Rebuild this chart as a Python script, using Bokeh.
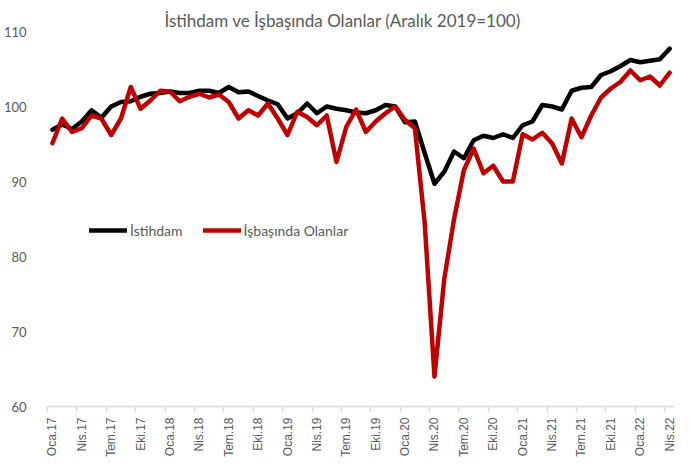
import math
from bokeh.plotting import figure
from bokeh.models import LinearAxis, FixedTicker
from bokeh.embed import file_html
from bokeh.resources import INLINE

month_names = ["Oca", "Şub", "Mar", "Nis", "May", "Haz", "Tem", "Ağu", "Eyl", "Eki", "Kas", "Ara"]
years = ["17", "18", "19", "20", "21", "22"]
months = [f"{m}.{y}" for y in years for m in month_names][:64]

istihdam = [
    96.9, 97.6, 97.0, 98.0, 99.5, 98.5, 100.0, 100.6, 100.7, 101.3, 101.7, 101.8,
    102.0, 101.8, 101.8, 102.1, 102.1, 101.8, 102.6, 101.9, 102.0, 101.4, 100.8, 100.3,
    98.4, 99.1, 100.4, 99.1, 100.0, 99.7, 99.5, 99.2, 99.1, 99.5, 100.2, 100.0,
    97.9, 98.0, 93.8, 89.7, 91.3, 94.0, 93.1, 95.5, 96.1, 95.8, 96.3, 95.8,
    97.5, 98.0, 100.2, 100.0, 99.6, 102.1, 102.5, 102.6, 104.2, 104.7, 105.4, 106.2,
    105.9, 106.1, 106.3, 107.7,
]
isbasinda = [
    95.1, 98.4, 96.6, 97.1, 98.8, 98.4, 96.2, 98.4, 102.6, 99.7, 100.8, 102.1,
    102.0, 100.7, 101.3, 101.7, 101.2, 101.6, 100.6, 98.4, 99.5, 98.8, 100.4, 98.4,
    96.2, 99.3, 98.6, 97.5, 98.8, 92.6, 97.3, 99.6, 96.6, 98.0, 99.1, 100.0,
    98.2, 97.1, 84.5, 64.0, 77.0, 85.0, 91.5, 94.4, 91.1, 92.1, 90.0, 90.0,
    96.3, 95.6, 96.5, 95.1, 92.4, 98.4, 95.9, 98.8, 101.2, 102.4, 103.3, 104.8,
    103.5, 104.0, 102.8, 104.5,
]
y_ticks = [60, 70, 80, 90, 100, 110]
title_text = "İstihdam ve İşbaşında Olanlar (Aralık 2019=100)"

x = list(range(len(months)))
FONT = "Lato"
GRAY = "#595959"

p = figure(width=676, height=459, x_range=(-0.5, len(months) - 0.5), y_range=(60, 110),
           output_backend="svg", toolbar_location=None, x_axis_location=None,
           min_border_left=40, min_border_right=2, min_border_top=31, min_border_bottom=20)

p.title.text = title_text
p.title.align = "left"
p.title.offset = 117
p.title.text_font = FONT
p.title.text_font_size = "17px"
p.title.text_font_style = "normal"
p.title.text_color = GRAY
p.title.standoff = 2

p.xgrid.visible = False
p.ygrid.visible = False
p.outline_line_color = None

boundary_ticks = [i - 0.5 for i in range(0, len(months), 3)]
tick_axis = LinearAxis(ticker=FixedTicker(ticks=boundary_ticks),
                       major_label_overrides={t: "" for t in boundary_ticks},
                       major_label_standoff=0,
                       major_tick_out=5, major_tick_in=0, minor_tick_out=0, minor_tick_in=0,
                       axis_line_color="#d9d9d9", axis_line_width=1.5,
                       major_tick_line_color="#d9d9d9", major_tick_line_width=1.5)
label_ticks = list(range(0, len(months), 3))
label_axis = LinearAxis(ticker=FixedTicker(ticks=label_ticks),
                        major_label_overrides={i: months[i] for i in label_ticks},
                        major_tick_out=0, major_tick_in=0, minor_tick_out=0, minor_tick_in=0,
                        axis_line_color=None, major_tick_line_color=None,
                        major_label_orientation=math.pi / 2, major_label_standoff=6,
                        major_label_text_font="Liberation Sans", major_label_text_font_size="12px",
                        major_label_text_color=GRAY)
p.add_layout(tick_axis, "below")
p.add_layout(label_axis, "below")

p.yaxis.ticker = FixedTicker(ticks=y_ticks)
p.yaxis.axis_line_color = None
p.yaxis.major_tick_line_color = None
p.yaxis.minor_tick_line_color = None
p.yaxis.major_label_standoff = 15
p.yaxis.major_label_text_font = FONT
p.yaxis.major_label_text_font_size = "13px"
p.yaxis.major_label_text_color = GRAY

p.line(x, istihdam, line_color="#000000", line_width=4.5, line_join="round", line_cap="round",
       legend_label="İstihdam")
p.line(x, isbasinda, line_color="#c00000", line_width=4.5, line_join="round", line_cap="round",
       legend_label="İşbaşında Olanlar")

lg = p.legend[0]
lg.location = (42, 166)
lg.orientation = "horizontal"
lg.border_line_color = None
lg.background_fill_alpha = 0
lg.padding = 0
lg.margin = 0
lg.spacing = 20
lg.glyph_width = 38
lg.glyph_height = 20
lg.label_standoff = 3
lg.label_text_font = FONT
lg.label_text_font_size = "14px"
lg.label_text_color = GRAY

open("out.html", "w").write(file_html(p, INLINE))
